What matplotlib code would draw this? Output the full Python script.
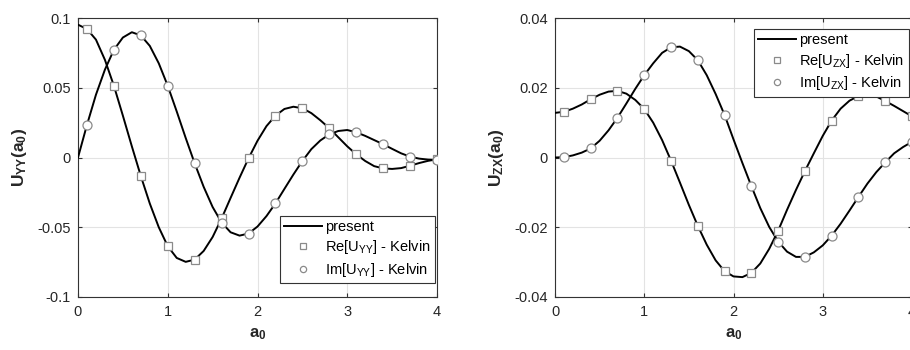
import numpy as np
import matplotlib
matplotlib.use("Agg")
import matplotlib.pyplot as plt

plt.rcParams['font.family'] = ['Liberation Sans', 'DejaVu Sans']
plt.rcParams['mathtext.fontset'] = 'custom'
plt.rcParams['mathtext.rm'] = 'Liberation Sans'
plt.rcParams['mathtext.bf'] = 'Liberation Sans:bold'
plt.rcParams['mathtext.it'] = 'Liberation Sans:italic'

# line ("present") sampled every 0.1
a0_line = [round(0.1 * i, 1) for i in range(41)]
re_yy_line = [0.0952, 0.0921, 0.0845, 0.0700, 0.0514, 0.0300, 0.0080, -0.0133, -0.0330, -0.0500,
              -0.0636, -0.0720, -0.0748, -0.0732, -0.0670, -0.0570, -0.0437, -0.0290, -0.0145, -0.0006,
              0.0120, 0.0225, 0.0300, 0.0348, 0.0364, 0.0353, 0.0318, 0.0267, 0.0210, 0.0145,
              0.0080, 0.0023, -0.0025, -0.0062, -0.0078, -0.0082, -0.0076, -0.0059, -0.0040, -0.0024,
              -0.0013]
im_yy_line = [0.0, 0.0234, 0.0450, 0.0630, 0.0772, 0.0860, 0.0898, 0.0875, 0.0800, 0.0675,
              0.0514, 0.0330, 0.0140, -0.0042, -0.0210, -0.0355, -0.0466, -0.0536, -0.0560, -0.0545,
              -0.0495, -0.0420, -0.0329, -0.0225, -0.0122, -0.0025, 0.0060, 0.0122, 0.0166, 0.0190,
              0.0197, 0.0181, 0.0155, 0.0125, 0.0095, 0.0062, 0.0030, 0.0006, -0.0008, -0.0015,
              -0.0018]
re_zx_line = [0.0128, 0.0131, 0.0140, 0.0152, 0.0167, 0.0180, 0.0189, 0.0191, 0.0183, 0.0165,
              0.0139, 0.0100, 0.0050, -0.0009, -0.0072, -0.0136, -0.0196, -0.0250, -0.0295, -0.0326,
              -0.0341, -0.0343, -0.0331, -0.0304, -0.0262, -0.0210, -0.0150, -0.0093, -0.0039, 0.0012,
              0.0062, 0.0106, 0.0140, 0.0163, 0.0176, 0.0180, 0.0175, 0.0162, 0.0148, 0.0133,
              0.0118]
im_zx_line = [0.0, 0.0001, 0.0006, 0.0014, 0.0026, 0.0048, 0.0078, 0.0114, 0.0155, 0.0197,
              0.0236, 0.0270, 0.0300, 0.0316, 0.0318, 0.0305, 0.0279, 0.0236, 0.0182, 0.0122,
              0.0052, -0.0016, -0.0082, -0.0145, -0.0199, -0.0241, -0.0270, -0.0285, -0.0285, -0.0272,
              -0.0252, -0.0224, -0.0190, -0.0152, -0.0113, -0.0075, -0.0042, -0.0014, 0.0012, 0.0030,
              0.0045]

# Kelvin markers
a0_mk = [0.1, 0.4, 0.7, 1.0, 1.3, 1.6, 1.9, 2.2, 2.5, 2.8, 3.1, 3.4, 3.7, 4.0]
re_yy_mk = [0.0921, 0.0514, -0.0133, -0.0636, -0.0732, -0.0437, -0.0006, 0.0300, 0.0353, 0.0210,
            0.0023, -0.0078, -0.0059, -0.0013]
im_yy_mk = [0.0234, 0.0772, 0.0875, 0.0514, -0.0042, -0.0466, -0.0545, -0.0329, -0.0025, 0.0166,
            0.0181, 0.0095, 0.0006, -0.0018]
re_zx_mk = [0.0131, 0.0167, 0.0191, 0.0139, -0.0009, -0.0196, -0.0326, -0.0331, -0.0210, -0.0039,
            0.0106, 0.0176, 0.0162, 0.0118]
im_zx_mk = [0.0001, 0.0026, 0.0114, 0.0236, 0.0316, 0.0279, 0.0122, -0.0082, -0.0241, -0.0285,
            -0.0224, -0.0113, -0.0014, 0.0045]

fig = plt.figure(figsize=(9.1, 3.5), dpi=100)
W, H = 910, 350
ax1 = fig.add_axes([78 / W, 53 / H, 359 / W, 279 / H])
ax2 = fig.add_axes([555 / W, 53 / H, 357 / W, 279 / H])

mk_edge = '#8a8a8a'


def draw(ax, re_line, im_line, re_mk, im_mk, ylim, yticks, yticklabels, ylabel, sub, legloc, bbox):
    ax.plot(a0_line, re_line, color='black', lw=1.4, label='present', zorder=3)
    ax.plot(a0_line, im_line, color='black', lw=1.4, zorder=3)
    ax.plot(a0_mk, re_mk, ls='none', marker='s', ms=5.5, mfc='white', mec=mk_edge, mew=0.9,
            label=r'Re[U$_{\mathrm{%s}}$] - Kelvin' % sub, zorder=4)
    ax.plot(a0_mk, im_mk, ls='none', marker='o', ms=6.5, mfc='white', mec=mk_edge, mew=0.9,
            label=r'Im[U$_{\mathrm{%s}}$] - Kelvin' % sub, zorder=4)
    ax.set_xlim(0, 4)
    ax.set_ylim(*ylim)
    ax.set_xticks([0, 1, 2, 3, 4])
    ax.set_xticklabels(['0', '1', '2', '3', '4'])
    ax.set_yticks(yticks)
    ax.set_yticklabels(yticklabels)
    ax.grid(True, color='#e3e3e3', lw=0.8)
    ax.set_axisbelow(True)
    ax.tick_params(direction='in', length=3, labelsize=10.5, color='#333333', labelcolor='#262626',
                   top=True, right=True)
    ax.tick_params(axis='x', pad=6)
    ax.tick_params(axis='y', pad=5)
    for s in ax.spines.values():
        s.set_color('#333333')
        s.set_linewidth(0.8)
    ax.set_xlabel(r'$\mathbf{a_0}$', fontsize=12, color='#262626', labelpad=5)
    ax.set_ylabel(ylabel, fontsize=12.5, fontweight='bold', color='#262626', labelpad=6)
    leg = ax.legend(loc=legloc, bbox_to_anchor=bbox, fontsize=10.5, frameon=True, fancybox=False,
                    edgecolor='#333333', framealpha=1, handlelength=2.6, handletextpad=0.2,
                    borderpad=0.3, labelspacing=0.3, borderaxespad=0)
    leg.get_frame().set_linewidth(0.8)
    for h in leg.legend_handles[1:]:
        h.set_markersize(4.5)


draw(ax1, re_yy_line, im_yy_line, re_yy_mk, im_yy_mk, (-0.1, 0.1),
     [-0.1, -0.05, 0, 0.05, 0.1], ['-0.1', '-0.05', '0', '0.05', '0.1'],
     r'$\mathbf{U_{YY}(a_0)}$', 'YY', 'lower right', ((435 - 78) / 359, 14 / 279))
draw(ax2, re_zx_line, im_zx_line, re_zx_mk, im_zx_mk, (-0.04, 0.04),
     [-0.04, -0.02, 0, 0.02, 0.04], ['-0.04', '-0.02', '0', '0.02', '0.04'],
     r'$\mathbf{U_{ZX}(a_0)}$', 'ZX', 'upper left', (199 / 357, 1 - 11 / 279))

fig.savefig('out.png', dpi=100)
